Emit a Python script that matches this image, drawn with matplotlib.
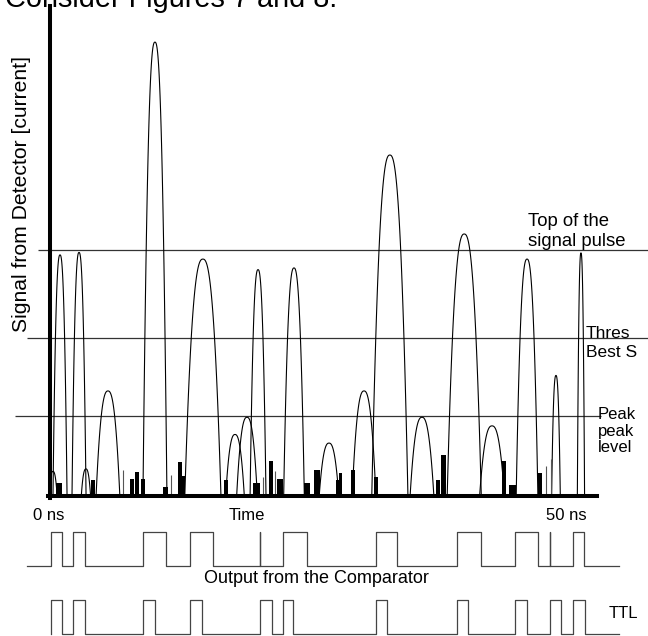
import numpy as np
import matplotlib.pyplot as plt

plt.rcParams['font.family'] = ['Liberation Sans', 'DejaVu Sans']

# detector pulses: time (ns), height (1 = top of the signal pulse), half width (ns)
peak_time = [0.97, 2.81, 10.16, 14.80, 20.14, 23.62, 32.90, 40.10, 46.18, 51.40,
             5.61, 19.07, 17.91, 27.01, 30.40, 36.01, 42.79, 48.98, 0.29, 3.48]
peak_height = [0.98, 0.99, 1.845, 0.963, 0.92, 0.927, 1.386, 1.065, 0.963, 0.988,
               0.427, 0.32, 0.25, 0.215, 0.427, 0.32, 0.285, 0.49, 0.10, 0.11]
peak_width = [0.68, 0.68, 1.16, 1.75, 0.77, 1.0, 1.75, 1.65, 1.05, 0.35,
              1.15, 1.0, 0.9, 0.95, 1.15, 1.15, 1.2, 0.42, 0.4, 0.45]

# noise blocks near the baseline
noise_left = [0.58, 3.97, 7.74, 8.23, 8.81, 10.94, 12.39, 12.68, 16.84, 19.65, 21.2, 21.97,
              24.59, 25.56, 27.69, 27.98, 29.14, 31.36, 37.37, 37.85, 43.76, 44.43, 47.24]
noise_width = [0.58, 0.39, 0.39, 0.39, 0.39, 0.48, 0.39, 0.39, 0.39, 0.68, 0.39, 0.58,
               0.58, 0.58, 0.29, 0.29, 0.39, 0.39, 0.39, 0.48, 0.39, 0.68, 0.39]
noise_height = [0.053, 0.065, 0.069, 0.098, 0.069, 0.037, 0.138, 0.081, 0.065, 0.053, 0.142, 0.069,
                0.053, 0.106, 0.065, 0.093, 0.106, 0.077, 0.065, 0.167, 0.142, 0.045, 0.093]
spike_time = [7.07, 11.71, 20.62, 21.78, 48.02, 48.5]
spike_height = [0.106, 0.085, 0.077, 0.10, 0.12, 0.15]

# reference levels: top of pulse, threshold, peak level
level_values = [1.0, 0.642, 0.325]

# comparator and TTL edges (ns)
comp_rise = [0.10, 2.23, 9.00, 13.55, 20.33, 22.56, 31.56, 39.40, 45.01, 48.40, 50.63]
comp_fall = [1.16, 3.39, 11.23, 15.78, 20.33, 24.88, 33.59, 41.72, 47.24, 48.40, 51.69]
ttl_rise = [0.10, 2.23, 9.00, 13.55, 20.33, 22.56, 31.56, 39.40, 45.01, 48.40, 50.63]
ttl_fall = [1.16, 3.39, 10.16, 14.71, 21.49, 23.52, 32.62, 40.46, 46.18, 49.47, 51.79]

W, H = 648, 636
X0, PX_NS = 50, 10.33
BASE, PX_U = 496, 246

fig = plt.figure(figsize=(W / 100, H / 100), dpi=100)
ax = fig.add_axes([0, 0, 1, 1])
ax.set_xlim(-X0 / PX_NS, (W - X0) / PX_NS)
ax.set_ylim(-(H - BASE) / PX_U, BASE / PX_U)
ax.patch.set_visible(False)
ax.set_xticks([])
ax.set_yticks([])
for s in ['top', 'right']:
    ax.spines[s].set_visible(False)
ax.spines['left'].set_position(('data', 0))
ax.spines['left'].set_bounds(-0.01, 1.99)
ax.spines['bottom'].set_position(('data', 0))
ax.spines['bottom'].set_bounds(-0.2, 52.95)
for s in ['left', 'bottom']:
    ax.spines[s].set_linewidth(2.9)
    ax.spines[s].set_zorder(5)

# reference levels
ax.hlines(level_values[0], -1.16, 58, color='#333333', lw=0.9)
ax.hlines(level_values[1], -2.23, 58, color='#333333', lw=0.9)
ax.hlines(level_values[2], -3.39, 53.3, color='#333333', lw=0.9)

# pulses
for c, h, w in zip(peak_time, peak_height, peak_width):
    t = np.linspace(c - w, c + w, 81)
    y = h * (1 - np.abs((t - c) / w) ** 2.5)
    ax.plot(t, y, color='black', lw=0.8)

ax.bar(noise_left, noise_height, width=noise_width, align='edge', color='black', zorder=3)
ax.vlines(spike_time, 0, spike_height, color='#555555', lw=0.8)


def pulse_train(axis, rise, fall, start, end):
    xs, ys = [start], [0]
    for r, f in zip(rise, fall):
        xs += [r, r, f, f]
        ys += [0, 1, 1, 0]
    xs.append(end)
    ys.append(0)
    axis.plot(xs, ys, color='#444444', lw=0.9, clip_on=False)


ax_c = fig.add_axes([0, (H - 566) / H, 1, 34 / H])
ax_t = fig.add_axes([0, (H - 634) / H, 1, 34 / H])
for a in [ax_c, ax_t]:
    a.set_xlim(ax.get_xlim())
    a.set_ylim(0, 1)
    a.axis('off')
pulse_train(ax_c, comp_rise, comp_fall, -2.23, 55.1)
pulse_train(ax_t, ttl_rise, ttl_fall, ttl_rise[0], 55.1)


def label(x, y, s, size, **kw):
    fig.text(x / W, 1 - y / H, s, fontsize=size, va='baseline', **kw)


label(5, 7, 'Consider Figures 7 and 8.', 20.8)
fig.text(22 / W, 1 - 194 / H, 'Signal from Detector [current]', rotation=90,
         ha='center', va='center', fontsize=15.2)
label(528, 226, 'Top of the', 13.3)
label(528, 246, 'signal pulse', 13.3)
label(586, 338, 'Thres', 12.5)
label(586, 357, 'Best S', 12.5)
label(598, 419, 'Peak', 12)
label(598, 436, 'peak', 12)
label(598, 452, 'level', 12)
label(49, 520, '0 ns', 12, ha='center')
label(247, 520, 'Time', 12, ha='center')
label(566, 520, '50 ns', 12, ha='center')
label(316, 583, 'Output from the Comparator', 13, ha='center')
label(609, 618, 'TTL', 12)

fig.savefig('out.png', dpi=100)
